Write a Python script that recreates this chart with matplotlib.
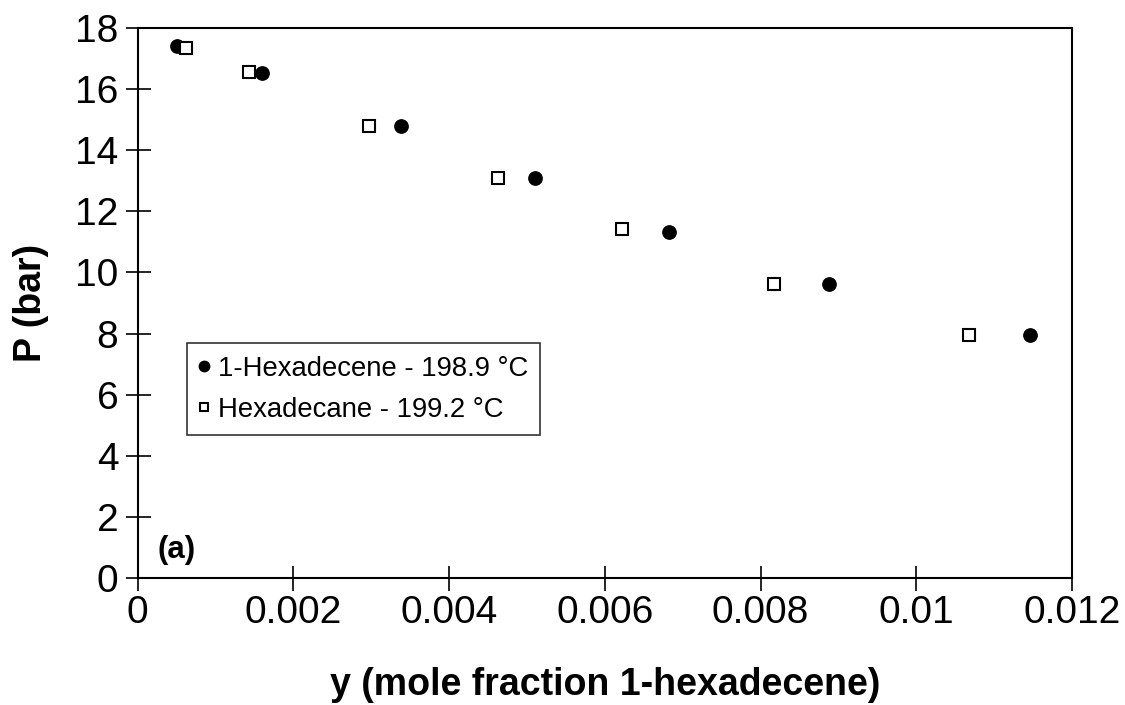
import matplotlib
matplotlib.use("Agg")
import matplotlib.pyplot as plt

plt.rcParams['font.family'] = ['Liberation Sans', 'DejaVu Sans']

# 1-Hexadecene - 198.9 °C
y_hexadecene = [0.000501, 0.001593, 0.003386, 0.005107, 0.006825, 0.00888, 0.01146]
P_hexadecene = [17.42, 16.52, 14.80, 13.10, 11.33, 9.63, 7.95]

# Hexadecane - 199.2 °C
y_hexadecane = [0.000617, 0.001434, 0.002975, 0.004624, 0.006217, 0.00817, 0.01068]
P_hexadecane = [17.35, 16.57, 14.80, 13.10, 11.41, 9.63, 7.94]

x_ticks = [0, 0.002, 0.004, 0.006, 0.008, 0.010, 0.012]
x_ticklabels = ['0', '0.002', '0.004', '0.006', '0.008', '0.01', '0.012']
y_ticks = [0, 2, 4, 6, 8, 10, 12, 14, 16, 18]

fig = plt.figure(figsize=(11.25, 7.05), dpi=100)
W, H = 1125, 705
left, right, bottom, top = 137.7, 1072, 578, 28
ax = fig.add_axes([left / W, 1 - bottom / H, (right - left) / W, (bottom - top) / H])

ax.plot(y_hexadecene, P_hexadecene, linestyle='none', marker='o', markersize=9.6,
        markerfacecolor='black', markeredgecolor='black',
        label='1-Hexadecene - 198.9 °C', clip_on=False, zorder=3)
ax.plot(y_hexadecane, P_hexadecane, linestyle='none', marker='s', markersize=8.3,
        markerfacecolor='white', markeredgecolor='black', markeredgewidth=1.5,
        label='Hexadecane - 199.2 °C', clip_on=False, zorder=3)

ax.set_xlim(0, 0.012)
ax.set_ylim(0, 18)
ax.set_xticks(x_ticks)
ax.set_xticklabels(x_ticklabels)
ax.set_yticks(y_ticks)

for s in ax.spines.values():
    s.set_linewidth(1.5)
    s.set_color('black')
ax.tick_params(axis='both', direction='inout', length=18, width=1.2, labelsize=28,
               colors='black')
ax.tick_params(axis='x', pad=3)
ax.tick_params(axis='y', pad=5)
ax.tick_params(top=False, right=False)

ax.set_xlabel('y (mole fraction 1-hexadecene)', fontsize=27, fontweight='bold')
ax.xaxis.set_label_coords(0.5, -0.162)
ax.set_ylabel('P (bar)', fontsize=27, fontweight='bold')
ax.yaxis.set_label_coords(-0.095, 0.5)

ax.text(0.0217, 0.051, '(a)', transform=ax.transAxes, fontsize=22.5, fontweight='bold',
        ha='left', va='center')

leg = ax.legend(loc='upper left', bbox_to_anchor=(187.3 / W, 1 - 343.3 / H),
                bbox_transform=fig.transFigure, borderaxespad=0, fontsize=19.8,
                markerscale=0.78, handlelength=0.35, handletextpad=0.3,
                borderpad=0.45, labelspacing=0.55, fancybox=False, frameon=True)
leg.get_frame().set_edgecolor('black')
leg.get_frame().set_linewidth(1.2)

fig.savefig('out.png', dpi=100)
